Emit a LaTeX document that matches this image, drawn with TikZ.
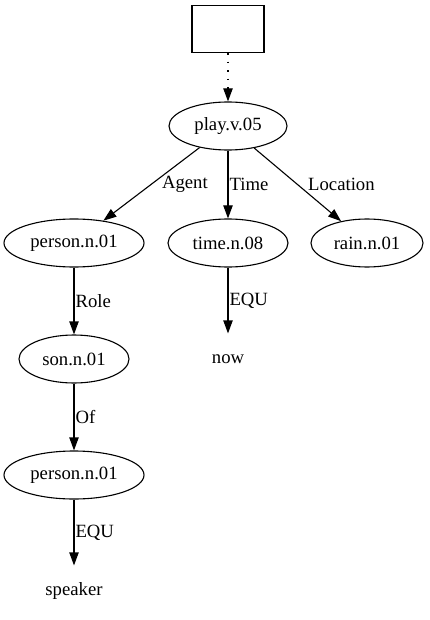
\documentclass[tikz,border=0pt]{standalone}
\usepackage{fontspec}
\setmainfont{Liberation Serif}
\usetikzlibrary{arrows.meta}
\usetikzlibrary{shapes.geometric}

\tikzset{
  every node/.style={font=\fontsize{18.7pt}{22pt}\selectfont},
  syn/.style={draw, ellipse, inner sep=0pt, minimum height=48pt},
  word/.style={inner sep=0pt, minimum height=50pt},
  rel/.style={draw, -{Triangle[length=13pt,width=9.3pt]}},
  lab/.style={anchor=west, inner sep=1pt},
}

\begin{document}
\begin{tikzpicture}[x=1pt,y=-1pt,line width=1.1pt]
\useasboundingbox (0,0) rectangle (430,620);
\node[draw, minimum width=72pt, minimum height=47pt] (root) at (228,29) {};
\node[syn, minimum width=118pt] (play) at (228,126) {play.v.05};
\node[syn, minimum width=140pt] (agent) at (74,243) {person.n.01};
\node[syn, minimum width=120pt] (time) at (228,243) {time.n.08};
\node[syn, minimum width=112pt] (rain) at (367,243) {rain.n.01};
\node[syn, minimum width=110pt] (son) at (74,359) {son.n.01};
\node[syn, minimum width=140pt] (of) at (74,475) {person.n.01};
\node[word] (now) at (228,359) {now};
\node[word] (speaker) at (74,591) {speaker};

\draw[rel, dash pattern=on 1.5pt off 7pt] (root) -- (play);
\draw[rel] (play) -- (agent) node[lab, pos=0.5, xshift=9pt]{Agent};
\draw[rel] (play) -- (time) node[lab, pos=0.5]{Time};
\draw[rel] (play) -- (rain) node[lab, pos=0.5, xshift=9pt]{Location};
\draw[rel] (agent) -- (son) node[lab, pos=0.5]{Role};
\draw[rel] (time) -- (now) node[lab, pos=0.5]{EQU};
\draw[rel] (son) -- (of) node[lab, pos=0.5]{Of};
\draw[rel] (of) -- (speaker) node[lab, pos=0.5]{EQU};
\end{tikzpicture}
\end{document}
